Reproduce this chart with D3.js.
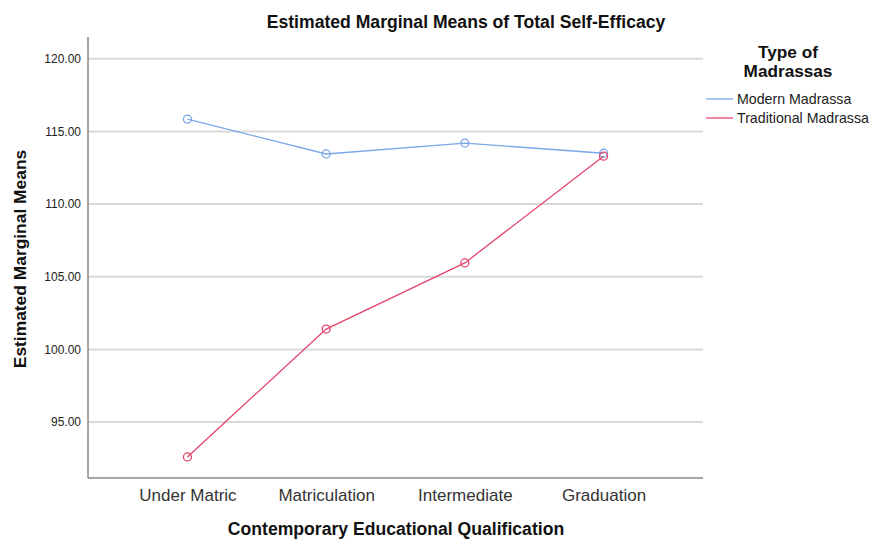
<!DOCTYPE html>
<html>
<head>
<meta charset="utf-8">
<script src="https://cdn.jsdelivr.net/npm/d3@7"></script>
<style>
body{margin:0;background:#fff;}
text{font-family:Arial,"Liberation Sans",sans-serif;}
</style>
</head>
<body>
<svg id="chart" width="871" height="540"></svg>
<script>
var categories = ['Under Matric','Matriculation','Intermediate','Graduation'];
var seriesNames = ['Modern Madrassa','Traditional Madrassa'];
var modernValues = [115.85, 113.45, 114.2, 113.5];
var traditionalValues = [92.6, 101.4, 105.95, 113.3];
var yTicks = [95, 100, 105, 110, 115, 120];
var colors = ['#7aa7e6','#e4456b'];

var svg = d3.select('#chart');
var plotL = 88, plotR = 703, plotT = 37, plotB = 478;

var x = d3.scalePoint().domain(categories).range([plotL, plotR]).padding(0.717);
var y = d3.scaleLinear().domain([91.15, 121.5]).range([plotB, plotT]);

// gridlines
svg.append('g').selectAll('line').data(yTicks).enter().append('line')
  .attr('x1', plotL).attr('x2', plotR)
  .attr('y1', function(d){ return y(d); }).attr('y2', function(d){ return y(d); })
  .attr('stroke', '#d9d9d9').attr('stroke-width', 2);

// y axis
var yAxis = svg.append('g').attr('transform', 'translate(' + plotL + ',0)')
  .call(d3.axisLeft(y).tickValues(yTicks).tickSize(0).tickPadding(7).tickFormat(d3.format('.2f')));
yAxis.select('.domain').remove();
yAxis.selectAll('text').attr('font-size', '12px').attr('fill', '#222');

// x axis
var xAxis = svg.append('g').attr('transform', 'translate(0,' + plotB + ')')
  .call(d3.axisBottom(x).tickSize(0).tickPadding(11));
xAxis.select('.domain').remove();
xAxis.selectAll('text').attr('font-size', '17px').attr('fill', '#333');

// axis lines
svg.append('line').attr('x1', plotL).attr('x2', plotL).attr('y1', plotT).attr('y2', plotB)
  .attr('stroke', '#888').attr('stroke-width', 1.5);
svg.append('line').attr('x1', plotL).attr('x2', plotR).attr('y1', plotB).attr('y2', plotB)
  .attr('stroke', '#888').attr('stroke-width', 1.5);

// series
var series = [modernValues, traditionalValues];
var line = d3.line().x(function(d, i){ return x(categories[i]); }).y(function(d){ return y(d); });
for (var s = 0; s < series.length; s++){
  var g = svg.append('g');
  g.append('path').datum(series[s]).attr('d', line)
    .attr('fill', 'none').attr('stroke', colors[s]).attr('stroke-width', 1.3);
  g.selectAll('circle').data(series[s]).enter().append('circle')
    .attr('cx', function(d, i){ return x(categories[i]); })
    .attr('cy', function(d){ return y(d); })
    .attr('r', 4).attr('fill', 'none').attr('stroke', colors[s]).attr('stroke-width', 1.3);
}

// titles
svg.append('text').text('Estimated Marginal Means of Total Self-Efficacy')
  .attr('x', 466).attr('y', 28).attr('text-anchor', 'middle')
  .attr('font-size', '17.6px').attr('font-weight', 'bold').attr('fill', '#111');
svg.append('text').text('Estimated Marginal Means')
  .attr('transform', 'translate(26,' + 259 + ') rotate(-90)').attr('text-anchor', 'middle')
  .attr('font-size', '17.4px').attr('font-weight', 'bold').attr('fill', '#111');
svg.append('text').text('Contemporary Educational Qualification')
  .attr('x', 396).attr('y', 535).attr('text-anchor', 'middle')
  .attr('font-size', '17.6px').attr('font-weight', 'bold').attr('fill', '#111');

// legend
var lg = svg.append('g');
lg.append('text').text('Type of').attr('x', 788).attr('y', 58).attr('text-anchor', 'middle')
  .attr('font-size', '17.2px').attr('font-weight', 'bold').attr('fill', '#111');
lg.append('text').text('Madrassas').attr('x', 788).attr('y', 77).attr('text-anchor', 'middle')
  .attr('font-size', '17.2px').attr('font-weight', 'bold').attr('fill', '#111');
for (var i = 0; i < seriesNames.length; i++){
  var ly = 99 + i * 19;
  lg.append('line').attr('x1', 706).attr('x2', 733).attr('y1', ly).attr('y2', ly)
    .attr('stroke', colors[i]).attr('stroke-width', 1.3);
  lg.append('text').text(seriesNames[i]).attr('x', 737).attr('y', ly + 5)
    .attr('font-size', '14.2px').attr('fill', '#222');
}
</script>
</body>
</html>
